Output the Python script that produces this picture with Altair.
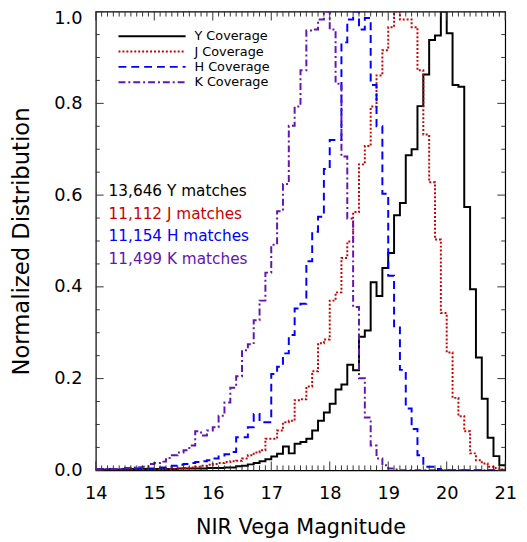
import altair as alt
import pandas as pd

# ---------------- data ----------------
bin_edges = [round(14.0 + 0.1 * i, 1) for i in range(71)]  # 0.1 mag bins, 14.0 .. 21.0

y_cov = [0.002, 0.002, 0.002, 0.002, 0.002, 0.002, 0.003, 0.002, 0.003, 0.003,
         0.003, 0.003, 0.003, 0.003, 0.004, 0.004, 0.004, 0.004, 0.004, 0.005,
         0.005, 0.005, 0.006, 0.006, 0.009, 0.010, 0.013, 0.016, 0.020, 0.024,
         0.030, 0.036, 0.052, 0.037, 0.058, 0.062, 0.069, 0.087, 0.108, 0.126,
         0.145, 0.176, 0.187, 0.230, 0.218, 0.291, 0.305, 0.410, 0.380, 0.441,
         0.474, 0.556, 0.583, 0.687, 0.700, 0.794, 0.863, 0.938, 0.948, 1.000,
         0.953, 0.840, 0.836, 0.574, 0.395, 0.246, 0.156, 0.071, 0.031, 0.011]

j_cov = [0.000, 0.000, 0.000, 0.000, 0.000, 0.001, 0.001, 0.001, 0.001, 0.001,
         0.002, 0.002, 0.003, 0.003, 0.004, 0.005, 0.006, 0.008, 0.010, 0.012,
         0.014, 0.016, 0.018, 0.020, 0.021, 0.026, 0.033, 0.039, 0.044, 0.069,
         0.069, 0.087, 0.105, 0.108, 0.153, 0.155, 0.183, 0.216, 0.277, 0.285,
         0.370, 0.388, 0.463, 0.499, 0.563, 0.667, 0.707, 0.793, 0.861, 0.916,
         0.966, 1.000, 0.983, 0.983, 0.966, 0.872, 0.732, 0.628, 0.503, 0.343,
         0.257, 0.158, 0.118, 0.085, 0.037, 0.022, 0.015, 0.008, 0.005, 0.002]

h_cov = [0.003, 0.003, 0.003, 0.003, 0.003, 0.004, 0.004, 0.004, 0.004, 0.004,
         0.005, 0.006, 0.008, 0.010, 0.012, 0.014, 0.016, 0.018, 0.020, 0.022,
         0.026, 0.030, 0.035, 0.040, 0.072, 0.072, 0.094, 0.123, 0.105, 0.105,
         0.210, 0.226, 0.255, 0.295, 0.353, 0.363, 0.456, 0.520, 0.553, 0.657,
         0.720, 0.720, 0.933, 0.983, 1.000, 0.961, 0.986, 0.840, 0.750, 0.603,
         0.424, 0.314, 0.219, 0.135, 0.090, 0.033, 0.008, 0.008, 0.003, 0.000,
         0.000, 0.000, 0.000, 0.000, 0.000, 0.000, 0.000, 0.000, 0.000, 0.000]

k_cov = [0.003, 0.003, 0.003, 0.003, 0.003, 0.005, 0.006, 0.007, 0.008, 0.014,
         0.016, 0.019, 0.027, 0.033, 0.039, 0.044, 0.054, 0.085, 0.076, 0.087,
         0.094, 0.119, 0.148, 0.180, 0.205, 0.262, 0.275, 0.327, 0.370, 0.431,
         0.492, 0.565, 0.624, 0.751, 0.793, 0.872, 0.959, 0.961, 0.983, 1.000,
         0.961, 0.843, 0.684, 0.549, 0.356, 0.201, 0.115, 0.054, 0.026, 0.011,
         0.004, 0.002, 0.000, 0.000, 0.000, 0.000, 0.000, 0.000, 0.000, 0.000,
         0.000, 0.000, 0.000, 0.000, 0.000, 0.000, 0.000, 0.000, 0.000, 0.000]

series_names = ["Y Coverage", "J Coverage", "H Coverage", "K Coverage"]
series_values = [y_cov, j_cov, h_cov, k_cov]
match_labels = ["13,646 Y matches", "11,112 J matches", "11,154 H matches", "11,499 K matches"]

x_major = [14, 15, 16, 17, 18, 19, 20, 21]
y_major = [0.0, 0.2, 0.4, 0.6, 0.8, 1.0]
x_minor = [round(14 + 0.1 * i, 1) for i in range(71) if i % 10 != 0]
y_minor = [round(0.05 * i, 2) for i in range(21) if i % 4 != 0]

# ---------------- styles ----------------
series_colors = ["#000000", "#cc0000", "#0000ff", "#6214b4"]
series_dash = [[1, 0], [2, 2], [8, 5], [7, 3, 2, 3]]
FONT = "DejaVu Sans"
W, H = 415, 465

rows = []
for name, vals in zip(series_names, series_values):
    for i, v in enumerate(vals):
        rows.append({"series": name, "mag": bin_edges[i], "frac": v, "k": i})
    rows.append({"series": name, "mag": bin_edges[-1], "frac": vals[-1], "k": len(vals)})
hist_df = pd.DataFrame(rows)

xscale = alt.Scale(domain=[14, 21], nice=False, zero=False)
yscale = alt.Scale(domain=[0, 1.0], nice=False, zero=False)
cscale = alt.Scale(domain=series_names, range=series_colors)
dscale = alt.Scale(domain=series_names, range=series_dash)

hist = alt.Chart(hist_df).mark_line(interpolate="step-after", strokeWidth=2, strokeCap="butt", clip=True).encode(
    x=alt.X("mag:Q", scale=xscale,
            axis=alt.Axis(values=x_major, format="d", ticks=False, tickSize=0, domain=False, grid=False,
                          labelFont=FONT, labelFontSize=18, labelColor="black", labelPadding=15,
                          labelFlush=False, labelOverlap=False,
                          title="NIR Vega Magnitude", titleFont=FONT, titleFontSize=21,
                          titleFontWeight="normal", titleColor="black",
                          titleBaseline="alphabetic", titleX=W / 2, titleY=64)),
    y=alt.Y("frac:Q", scale=yscale,
            axis=alt.Axis(values=y_major, format=".1f", ticks=False, tickSize=0, domain=False, grid=False,
                          labelFont=FONT, labelFontSize=18, labelColor="black", labelPadding=14,
                          labelFlush=False, labelOverlap=False,
                          labelOffset=alt.condition("datum.value >= 1", alt.value(7), alt.value(0)),
                          title="Normalized Distribution", titleFont=FONT, titleFontSize=23,
                          titleFontWeight="normal", titleColor="black",
                          titleBaseline="middle", titleX=-75, titleY=H / 2)),
    color=alt.Color("series:N", scale=cscale, legend=None),
    strokeDash=alt.StrokeDash("series:N", scale=dscale, legend=None),
    order=alt.Order("k:Q"),
)


def ticks(values, side, length):
    df = pd.DataFrame({"v": values})
    m = alt.Chart(df).mark_rule(color="#333333", strokeWidth=1)
    if side == "bottom":
        return m.encode(x=alt.X("v:Q", scale=xscale), y=alt.value(H), y2=alt.value(H - length))
    if side == "top":
        return m.encode(x=alt.X("v:Q", scale=xscale), y=alt.value(0), y2=alt.value(length))
    if side == "left":
        return m.encode(y=alt.Y("v:Q", scale=yscale), x=alt.value(0), x2=alt.value(length))
    return m.encode(y=alt.Y("v:Q", scale=yscale), x=alt.value(W), x2=alt.value(W - length))


tick_layers = [
    ticks(x_major, "bottom", 9), ticks(x_minor, "bottom", 5),
    ticks(x_major, "top", 9), ticks(x_minor, "top", 5),
    ticks(y_major, "left", 8), ticks(y_minor, "left", 4),
    ticks(y_major, "right", 8), ticks(y_minor, "right", 4),
]

leg_df = pd.DataFrame({"series": series_names, "label": series_names})
leg_base = alt.Chart(leg_df).transform_window(row="row_number()").transform_calculate(
    py="25 + (datum.row - 1) * 15.5")
leg_lines = leg_base.mark_rule(strokeWidth=2, strokeCap="butt").encode(
    x=alt.value(23), x2=alt.value(91),
    y=alt.Y("py:Q", scale=None),
    color=alt.Color("series:N", scale=cscale, legend=None),
    strokeDash=alt.StrokeDash("series:N", scale=dscale, legend=None),
)
leg_text = leg_base.mark_text(align="left", baseline="middle", font=FONT, fontSize=13, color="black").encode(
    x=alt.value(100), y=alt.Y("py:Q", scale=None), text="label:N")

ann_df = pd.DataFrame({"series": series_names, "label": match_labels})
ann = alt.Chart(ann_df).transform_window(row="row_number()").transform_calculate(
    py="182 + (datum.row - 1) * 22.9").mark_text(align="left", baseline="middle", font=FONT, fontSize=15.5).encode(
    x=alt.value(13), y=alt.Y("py:Q", scale=None), text="label:N",
    color=alt.Color("series:N", scale=cscale, legend=None))

chart = alt.layer(hist, *tick_layers, leg_lines, leg_text, ann).properties(
    width=W, height=H,
    autosize=alt.AutoSizeParams(type="none"),
    padding={"left": 89, "top": 0, "right": 14, "bottom": 72},
    background="white",
).configure_view(stroke="black", strokeWidth=1.2)

chart.save("out.html", embed_options={"renderer": "svg", "actions": False})
